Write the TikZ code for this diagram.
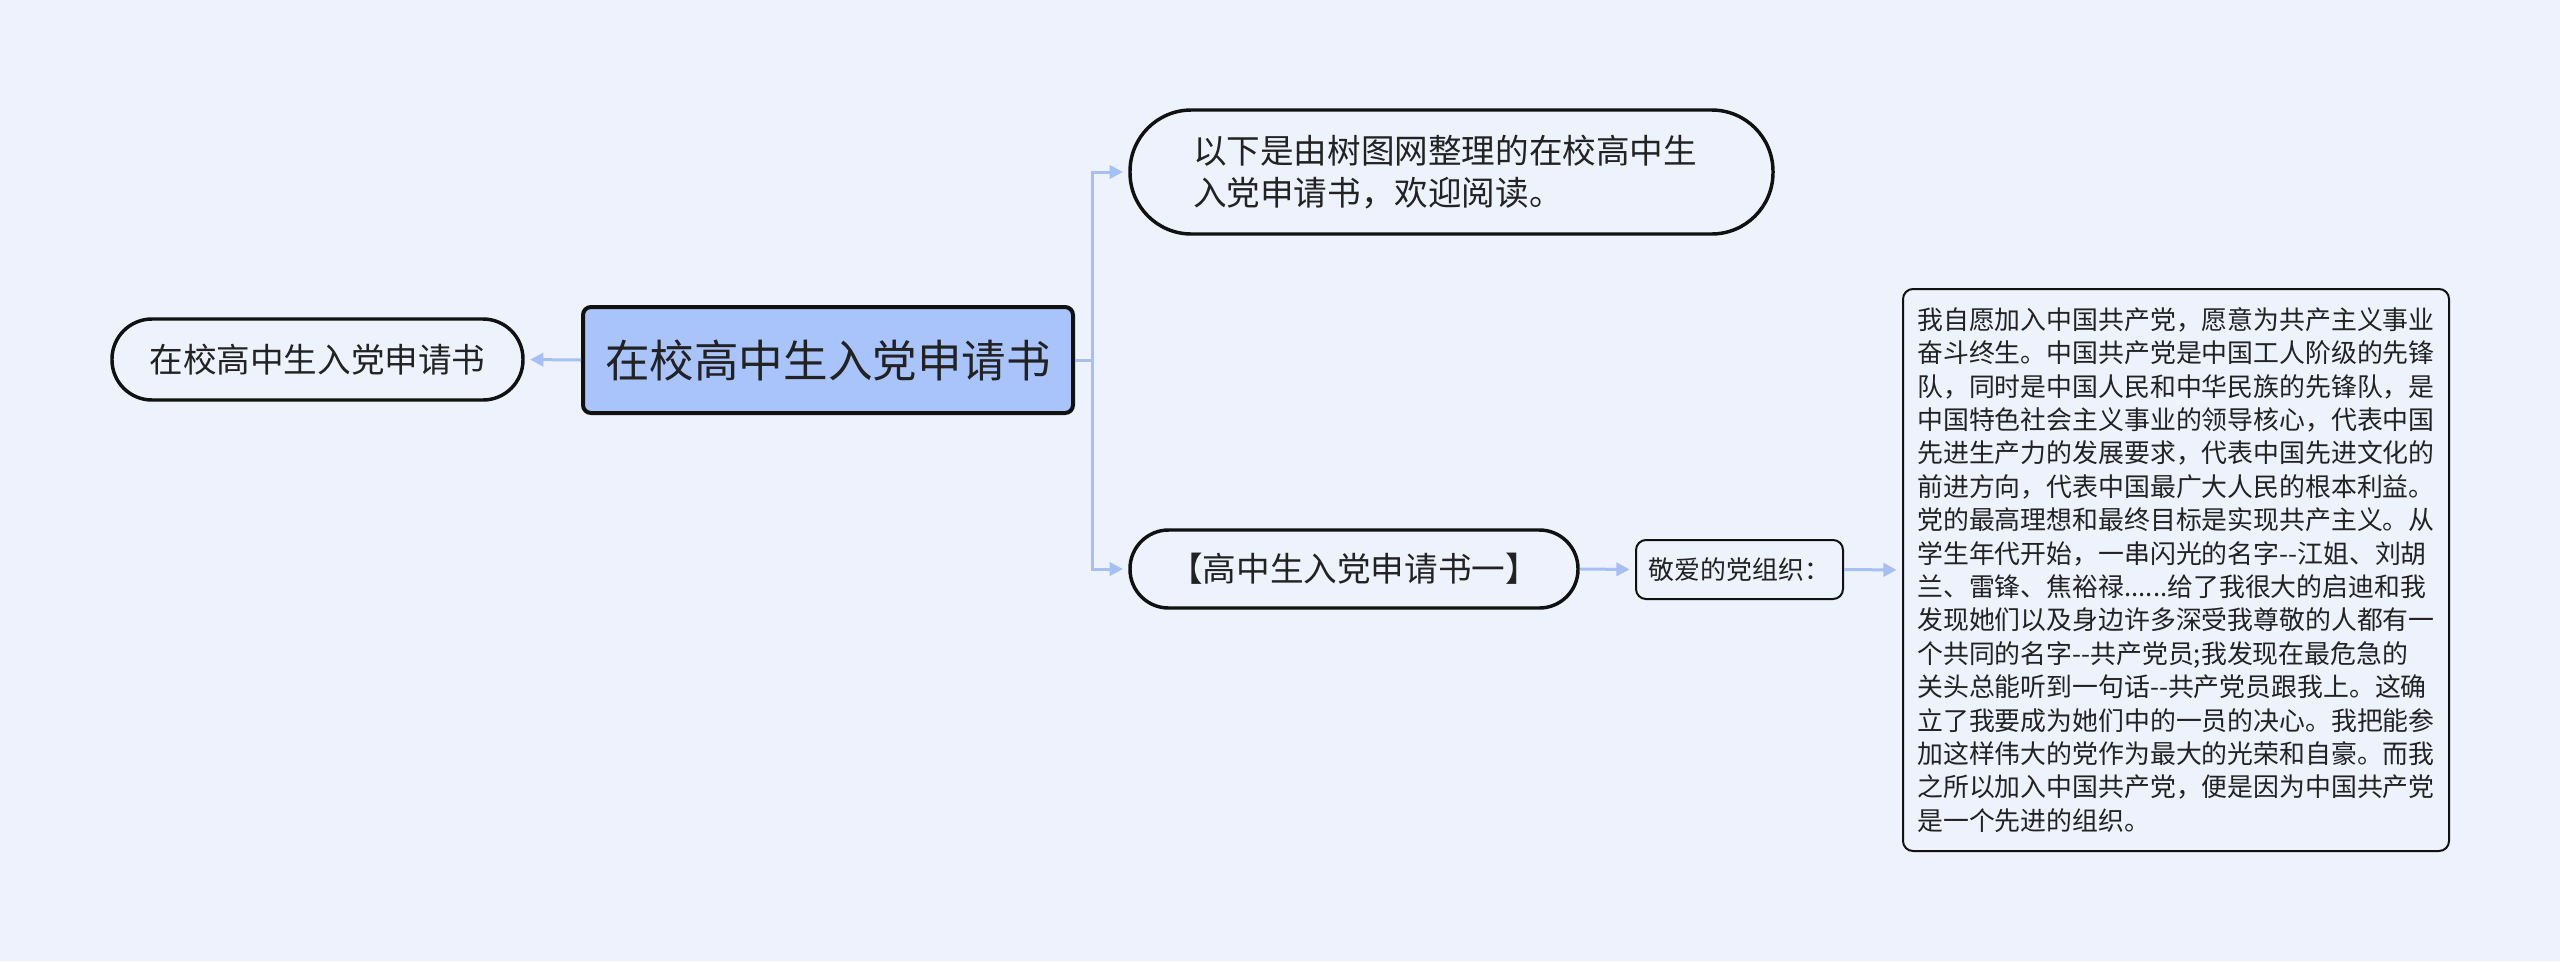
\documentclass[tikz,border=0pt]{standalone}
\usepackage{fontspec}
\setmainfont{Noto Sans CJK SC}
\usetikzlibrary{arrows.meta}
\definecolor{bgc}{HTML}{EEF2FC}
\definecolor{rootc}{HTML}{A9C4FB}
\definecolor{linec}{HTML}{A6C0F5}
\definecolor{txtc}{HTML}{222222}
\definecolor{edgec}{HTML}{111111}
\newcommand{\dd}{-\kern0pt-}
\begin{document}
\begin{tikzpicture}[x=0.75pt,y=-0.75pt,
  pill/.style={draw=edgec, line width=2.6pt, rounded corners=#1, inner sep=0pt, text=txtc,
    font=\fontsize{25.2pt}{31.5pt}\selectfont},
  rootbox/.style={draw=edgec, fill=rootc, line width=3pt, rounded corners=6pt, inner sep=0pt, text=txtc,
    minimum width=367.5pt, minimum height=79.5pt, font=\fontsize{33.4pt}{40pt}\selectfont},
  leafbox/.style={draw=edgec, line width=1.5pt, rounded corners=7.5pt, inner sep=0pt, text=txtc,
    font=\fontsize{19.4pt}{25.05pt}\selectfont},
  conn/.style={draw=linec, line width=2.25pt},
  arr/.style={conn, -{Triangle[length=10pt,width=10pt]}, shorten >=4pt}
]
\useasboundingbox (0,0) rectangle (2560,961);
\fill[bgc] (0,0) rectangle (2560,961);

\node[rootbox] (R) at (828,360) {在校高中生入党申请书};
\node[pill=30pt, minimum width=308.25pt, minimum height=60.75pt] (L) at (317.5,359.5) {在校高中生入党申请书};
\node[pill=46pt, minimum width=482.25pt, minimum height=93pt, text width=387.75pt, align=left] (T) at (1451.5,172)
  {以下是由树图网整理的在校高中生\\入党申请书，欢迎阅读。};
\node[pill=29pt, minimum width=336pt, minimum height=58.5pt] (B) at (1354,569) {【高中生入党申请书一】};
\node[leafbox, minimum width=155.25pt, minimum height=44.25pt] (S) at (1739.5,569.5) {敬爱的党组织：};
\node[leafbox, minimum width=409.5pt, minimum height=421.5pt, align=left] (D) at (2176,570)
  {我自愿加入中国共产党，愿意为共产主义事业\\
   奋斗终生。中国共产党是中国工人阶级的先锋\\
   队，同时是中国人民和中华民族的先锋队，是\\
   中国特色社会主义事业的领导核心，代表中国\\
   先进生产力的发展要求，代表中国先进文化的\\
   前进方向，代表中国最广大人民的根本利益。\\
   党的最高理想和最终目标是实现共产主义。从\\
   学生年代开始，一串闪光的名字\dd 江姐、刘胡\\
   兰、雷锋、焦裕禄......给了我很大的启迪和我\\
   发现她们以及身边许多深受我尊敬的人都有一\\
   个共同的名字\dd 共产党员;我发现在最危急的\\
   关头总能听到一句话\dd 共产党员跟我上。这确\\
   立了我要成为她们中的一员的决心。我把能参\\
   加这样伟大的党作为最大的光荣和自豪。而我\\
   之所以加入中国共产党，便是因为中国共产党\\
   是一个先进的组织。};

\coordinate (J) at (1092,360);
\draw[arr] (R.west) -- (L.east);
\draw[conn] (R.east) -- (J);
\draw[arr] (J) |- (T.west);
\draw[arr] (J) |- (B.west);
\draw[arr] (B.east) -- (S.west);
\draw[arr] (S.east) -- (D.west);
\end{tikzpicture}
\end{document}
